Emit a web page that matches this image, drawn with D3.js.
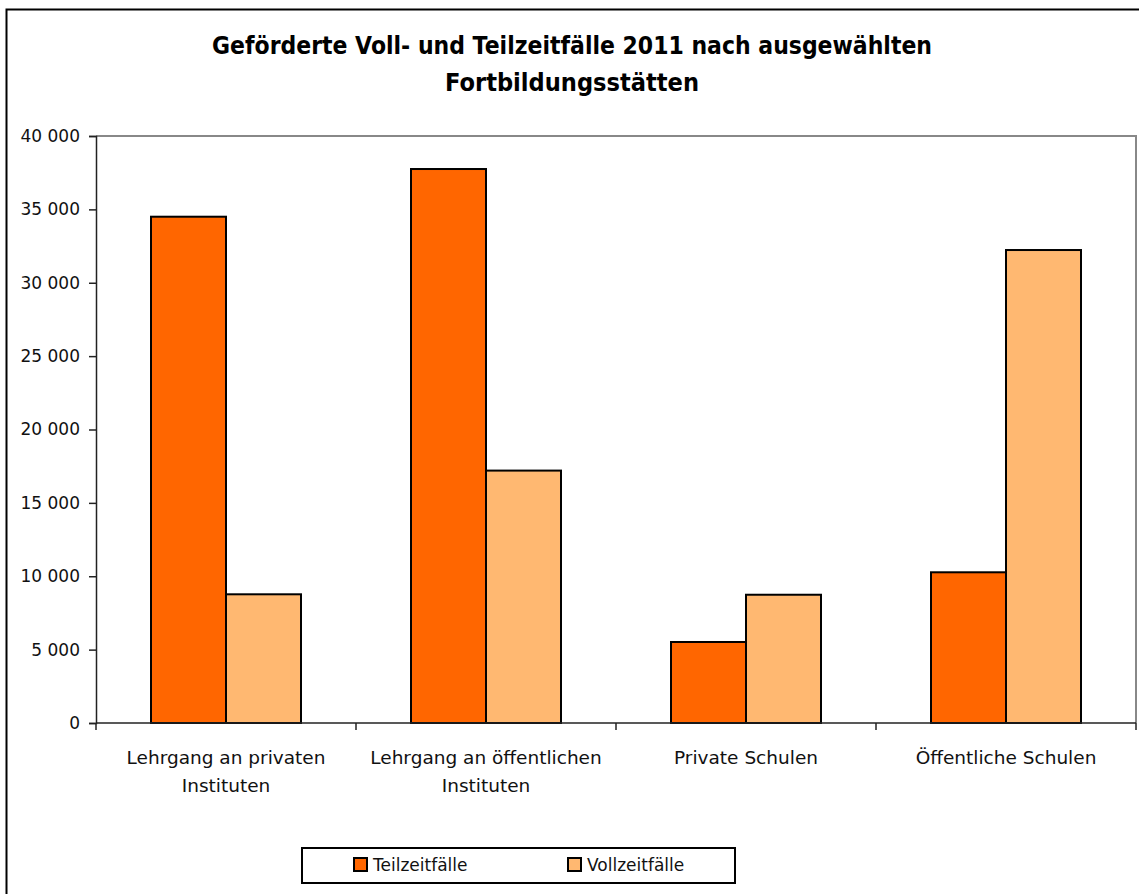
<!DOCTYPE html>
<html>
<head>
<meta charset="utf-8">
<script src="https://cdn.jsdelivr.net/npm/d3@7"></script>
<style>
  body { margin: 0; background: #fff; }
  svg { display: block; font-family: "DejaVu Sans", sans-serif; }
</style>
</head>
<body>
<div id="chart"></div>
<script>
// data
const categories = [
  ['Lehrgang an privaten', 'Instituten'],
  ['Lehrgang an öffentlichen', 'Instituten'],
  ['Private Schulen'],
  ['Öffentliche Schulen']
];
const seriesNames = ['Teilzeitfälle', 'Vollzeitfälle'];
const teilzeit = [34500, 37750, 5520, 10270];
const vollzeit = [8770, 17200, 8740, 32230];
const yTicks = [0, 5000, 10000, 15000, 20000, 25000, 30000, 35000, 40000];
const titleLines = ['Geförderte Voll- und Teilzeitfälle 2011 nach ausgewählten', 'Fortbildungsstätten'];

const colors = ['#FF6600', '#FFB871'];
const W = 1139, H = 894;
const plot = { left: 96, right: 1136, top: 136, bottom: 723 };

const svg = d3.select('#chart').append('svg')
  .attr('width', W)
  .attr('height', H);

// outer frame (runs off the right/bottom edge like the original)
svg.append('rect')
  .attr('x', 6.5).attr('y', 9.5)
  .attr('width', W + 20).attr('height', H + 20)
  .attr('fill', 'none')
  .attr('stroke', '#000')
  .attr('stroke-width', 2);

// title - the original font is a condensed bold, so squeeze to its width
const titleWidths = [720, 254];
svg.append('g')
  .selectAll('text')
  .data(titleLines)
  .enter()
  .append('text')
  .attr('x', 572)
  .attr('y', (d, i) => 54 + i * 37)
  .attr('text-anchor', 'middle')
  .attr('textLength', (d, i) => titleWidths[i])
  .attr('lengthAdjust', 'spacingAndGlyphs')
  .style('font-size', '25px')
  .style('font-weight', 'bold')
  .attr('fill', '#000')
  .text(d => d);

const keys = categories.map(c => c.join(' '));
const x0 = d3.scaleBand()
  .domain(keys)
  .range([plot.left, plot.right]);
const groupPad = x0.bandwidth() * 55 / 260;
const x1 = d3.scaleBand()
  .domain(seriesNames)
  .range([groupPad, x0.bandwidth() - groupPad]);
const y = d3.scaleLinear()
  .domain([0, 40000])
  .range([plot.bottom, plot.top]);

// plot frame: gray top + right
svg.append('path')
  .attr('d', `M${plot.left},${plot.top}H${plot.right}V${plot.bottom}`)
  .attr('fill', 'none')
  .attr('stroke', '#888')
  .attr('stroke-width', 2);

// bars
const rows = keys.map((k, i) => ({ key: k, values: [teilzeit[i], vollzeit[i]] }));
const groups = svg.selectAll('.grp')
  .data(rows)
  .enter()
  .append('g')
  .attr('class', 'grp')
  .attr('transform', d => `translate(${x0(d.key)},0)`);
groups.selectAll('rect')
  .data(d => d.values.map((v, j) => ({ name: seriesNames[j], value: v, j: j })))
  .enter()
  .append('rect')
  .attr('x', d => x1(d.name))
  .attr('y', d => y(d.value))
  .attr('width', x1.bandwidth())
  .attr('height', d => y(0) - y(d.value))
  .attr('fill', d => colors[d.j])
  .attr('stroke', '#000')
  .attr('stroke-width', 2);

// y axis
const fmt = v => d3.format(',')(v).replace(/,/g, ' ');
const yAxis = svg.append('g')
  .attr('transform', `translate(${plot.left},0)`)
  .call(d3.axisLeft(y).tickValues(yTicks).tickFormat(fmt).tickSize(7).tickPadding(9));
yAxis.select('.domain').attr('stroke', '#222').attr('stroke-width', 1.5);
yAxis.selectAll('.tick line').attr('stroke', '#222').attr('stroke-width', 1.5);
yAxis.selectAll('.tick text')
  .attr('fill', '#111')
  .style('font-size', '17px')
  .style('font-family', '"DejaVu Sans", sans-serif');

// x axis baseline + boundary ticks
svg.append('line')
  .attr('x1', plot.left).attr('x2', plot.right)
  .attr('y1', y(0)).attr('y2', y(0))
  .attr('stroke', '#222').attr('stroke-width', 1.5);
const bounds = keys.map(k => x0(k)).concat([x0(keys[keys.length - 1]) + x0.bandwidth()]);
svg.selectAll('.xtick')
  .data(bounds)
  .enter()
  .append('line')
  .attr('class', 'xtick')
  .attr('x1', d => d).attr('x2', d => d)
  .attr('y1', y(0)).attr('y2', y(0) + 7)
  .attr('stroke', '#222').attr('stroke-width', 1.5);

// category labels
const catText = svg.selectAll('.cat')
  .data(categories)
  .enter()
  .append('text')
  .attr('class', 'cat')
  .attr('text-anchor', 'middle')
  .style('font-size', '18.5px')
  .attr('fill', '#111');
catText.selectAll('tspan')
  .data((d, i) => d.map(line => ({ line: line, cx: x0(keys[i]) + x0.bandwidth() / 2 })))
  .enter()
  .append('tspan')
  .attr('x', d => d.cx)
  .attr('y', (d, i) => 764 + i * 28)
  .text(d => d.line);

// legend
const legend = svg.append('g');
legend.append('rect')
  .attr('x', 302).attr('y', 848)
  .attr('width', 433).attr('height', 35)
  .attr('fill', '#fff')
  .attr('stroke', '#000')
  .attr('stroke-width', 2);
const legendX = [354, 568];
const item = legend.selectAll('.li')
  .data(seriesNames)
  .enter()
  .append('g')
  .attr('class', 'li')
  .attr('transform', (d, i) => `translate(${legendX[i]},858)`);
item.append('rect')
  .attr('width', 13).attr('height', 13)
  .attr('fill', (d, i) => colors[i])
  .attr('stroke', '#000')
  .attr('stroke-width', 2);
item.append('text')
  .attr('x', 19).attr('y', 13)
  .style('font-size', '17px')
  .attr('fill', '#111')
  .text(d => d);
</script>
</body>
</html>
